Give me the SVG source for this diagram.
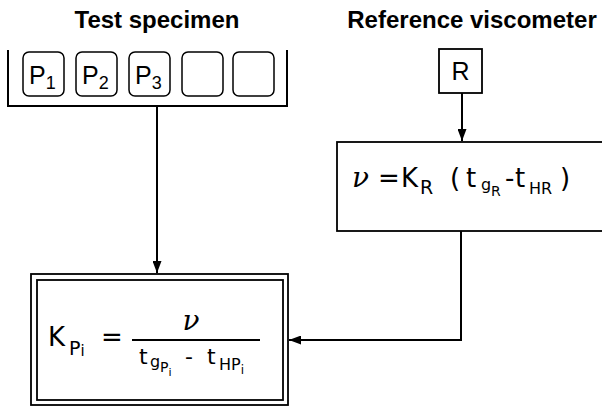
<svg xmlns="http://www.w3.org/2000/svg" width="602" height="406" viewBox="0 0 602 406">
  <defs>
    <marker id="arrow" viewBox="0 0 12 9" refX="12" refY="4.5" markerWidth="12" markerHeight="9" markerUnits="userSpaceOnUse" orient="auto">
      <path d="M0,0 L12,4.5 L0,9 z" fill="#000"/>
    </marker>
  </defs>
  <style>
    .title { font-family: "Liberation Sans", Arial, sans-serif; font-weight: bold; font-size: 24px; fill: #000; }
    .cell { fill: #fff; stroke: #000; stroke-width: 1.5; }
    .cellTxt { font-family: "Liberation Sans", Arial, sans-serif; font-size: 25px; fill: #000; }
    .box { fill: #fff; stroke: #000; stroke-width: 1.8; }
    .math { font-family: "DejaVu Sans", Verdana, sans-serif; fill: #000; }
    .nu { font-family: "DejaVu Serif", "Liberation Serif", serif; font-style: italic; fill: #000; }
    .wire { fill: none; stroke: #000; stroke-width: 2; }
  </style>

  <!-- column headings -->
  <text class="title" x="157" y="28" text-anchor="middle">Test specimen</text>
  <text class="title" x="472" y="28" text-anchor="middle">Reference viscometer</text>

  <!-- specimen rack -->
  <g id="specimen-rack">
    <path class="wire" d="M8,50 V106 H287 V50"/>
    <g id="cell-p1">
      <rect class="cell" x="23" y="52" width="41" height="44" rx="6"/>
      <text class="cellTxt" x="29" y="84">P<tspan font-size="18" dy="5">1</tspan></text>
    </g>
    <g id="cell-p2">
      <rect class="cell" x="76" y="52" width="41" height="44" rx="6"/>
      <text class="cellTxt" x="82" y="84">P<tspan font-size="18" dy="5">2</tspan></text>
    </g>
    <g id="cell-p3">
      <rect class="cell" x="129" y="52" width="41" height="44" rx="6"/>
      <text class="cellTxt" x="135" y="84">P<tspan font-size="18" dy="5">3</tspan></text>
    </g>
    <g id="cell-4">
      <rect class="cell" x="182" y="52" width="41" height="44" rx="6"/>
    </g>
    <g id="cell-5">
      <rect class="cell" x="233" y="52" width="41" height="44" rx="6"/>
    </g>
  </g>

  <!-- reference viscometer -->
  <g id="ref-r">
    <rect class="box" x="439" y="49" width="43" height="44"/>
    <text class="cellTxt" x="460.5" y="80" text-anchor="middle">R</text>
  </g>

  <!-- kinematic viscosity of the reference -->
  <g id="ref-formula">
    <rect class="box" x="337" y="142" width="280" height="89"/>
    <text class="nu" x="352" y="187" font-size="28">ν</text>
    <text class="math" x="378" y="187" font-size="26">=</text>
    <text class="math" x="401" y="187" font-size="26">K</text>
    <text class="math" x="420" y="194" font-size="19">R</text>
    <text class="math" x="450" y="187" font-size="26">(</text>
    <text class="math" x="466" y="187" font-size="26">t</text>
    <text class="math" x="481" y="190" font-size="16">g</text>
    <text class="math" x="491" y="196" font-size="14">R</text>
    <text class="math" x="505" y="187" font-size="26">-</text>
    <text class="math" x="515" y="187" font-size="26">t</text>
    <text class="math" x="529" y="194" font-size="16">HR</text>
    <text class="math" x="560" y="187" font-size="26">)</text>
  </g>

  <!-- specimen constant -->
  <g id="specimen-formula">
    <rect class="box" x="31" y="274" width="257" height="131"/>
    <rect class="box" x="37" y="280" width="246" height="120"/>
    <text class="math" x="48" y="346" font-size="26">K</text>
    <text class="math" x="69" y="355" font-size="19">P<tspan font-size="15" dy="1">i</tspan></text>
    <text class="math" x="101" y="346" font-size="26">=</text>
    <line x1="132" y1="340" x2="260" y2="340" stroke="#000" stroke-width="2"/>
    <text class="nu" x="191" y="330" font-size="28" text-anchor="middle">ν</text>
    <text class="math" x="139" y="364" font-size="22">t</text>
    <text class="math" x="150" y="367" font-size="16">g</text>
    <text class="math" x="160" y="372" font-size="14">P<tspan font-size="11" dy="4">i</tspan></text>
    <text class="math" x="185" y="364" font-size="22">-</text>
    <text class="math" x="207" y="364" font-size="22">t</text>
    <text class="math" x="219" y="370" font-size="16">HP<tspan font-size="12" dy="4">i</tspan></text>
  </g>

  <!-- connectors -->
  <g id="connectors">
    <path class="wire" d="M157,106 V273" marker-end="url(#arrow)"/>
    <path class="wire" d="M462,93 V141" marker-end="url(#arrow)"/>
    <path class="wire" d="M461,231 V340 H289" marker-end="url(#arrow)"/>
  </g>
</svg>
